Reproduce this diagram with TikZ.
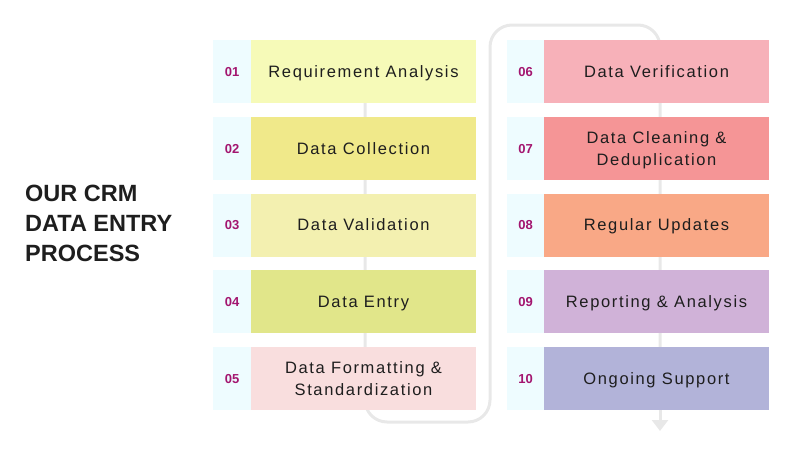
\documentclass[tikz,border=0pt]{standalone}
\usepackage{fontspec}
\setmainfont{Liberation Sans}
\newfontfamily\boxfont[LetterSpace=10]{Liberation Sans}
\usetikzlibrary{arrows.meta,backgrounds}
\definecolor{numbg}{HTML}{EEFCFF}
\definecolor{numfg}{HTML}{A3156F}
\definecolor{flowc}{HTML}{E8E8E8}
\definecolor{txt}{HTML}{1E1E1E}
\definecolor{c1}{HTML}{F6FAB8}
\definecolor{c2}{HTML}{F0E98A}
\definecolor{c3}{HTML}{F3F0B0}
\definecolor{c4}{HTML}{E1E68A}
\definecolor{c5}{HTML}{F9DEDE}
\definecolor{c6}{HTML}{F7B1B9}
\definecolor{c7}{HTML}{F59596}
\definecolor{c8}{HTML}{F9A886}
\definecolor{c9}{HTML}{D0B2D8}
\definecolor{c10}{HTML}{B2B3D9}
\tikzset{
  numcell/.style={fill=numbg, draw=none, minimum width=38pt, minimum height=63pt, inner sep=0pt,
    text=numfg, font=\fontsize{13}{15}\selectfont\bfseries, text height=9pt, text depth=0pt},
  stepbox/.style={draw=none, minimum width=225pt, minimum height=63pt, inner sep=0pt,
    text=txt, align=center, font=\boxfont\fontsize{16.5}{22.5}\selectfont,
    text height=11.5pt, text depth=0pt},
  twoline/.style={text height=34pt, text depth=0pt},
  oneline/.style={},
  flow/.style={draw=flowc, line width=3pt, rounded corners=22pt},
  title/.style={anchor=north west, align=left, inner sep=0pt, text=txt,
    font=\fontsize{23.5}{30}\selectfont\bfseries}
}
\begin{document}
\begin{tikzpicture}[x=1pt,y=-1pt]
\useasboundingbox (0,0) rectangle (800,450);
\node[title] (t) at (25,185) {OUR CRM\\DATA ENTRY\\PROCESS};
% left column
\foreach \i/\y/\n/\c/\o/\t in {1/71.5/01/c1/oneline/Requirement Analysis,
  2/148.5/02/c2/oneline/Data Collection,
  3/225/03/c3/oneline/Data Validation,
  4/301.5/04/c4/oneline/Data Entry,
  5/378.5/05/c5/twoline/Data Formatting \&\\Standardization}{
  \node[numcell] (n\i) at (232,\y) {\n};
  \node[stepbox, fill=\c, \o] (b\i) at (363.5,\y) {\t};
}
% right column
\foreach \i/\y/\n/\c/\o/\t in {6/71.5/06/c6/oneline/Data Verification,
  7/148.5/07/c7/twoline/Data Cleaning \&\\Deduplication,
  8/225/08/c8/oneline/Regular Updates,
  9/301.5/09/c9/oneline/Reporting \& Analysis,
  10/378.5/10/c10/oneline/Ongoing Support}{
  \node[numcell] (n\i) at (525.5,\y) {\n};
  \node[stepbox, fill=\c, \o] (b\i) at (656.5,\y) {\t};
}
\coordinate (bl) at (365,422);
\coordinate (br) at (490,422);
\coordinate (tl) at (490,25);
\coordinate (tr) at (660,25);
\coordinate (endp) at (660,431);
\begin{scope}[on background layer]
\draw[flow] (b1.center -| bl) -- (bl) -- (br) -- (tl) -- (tr) -- (b10.south -| tr);
\draw[draw=flowc, line width=3pt, -{Triangle[width=16pt,length=11pt]}] (b10.south -| tr) -- (endp);
\end{scope}
\end{tikzpicture}
\end{document}
